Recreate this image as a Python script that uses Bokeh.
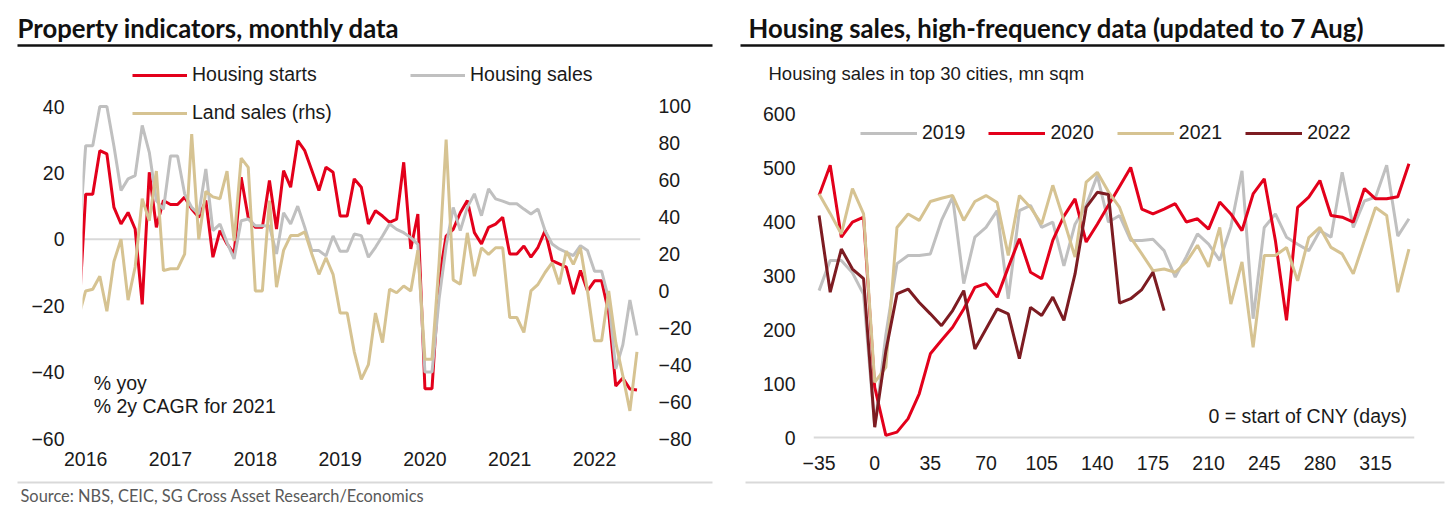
from bokeh.plotting import figure
from bokeh.models import Range1d, LinearAxis, FixedTicker, Span, Legend, LegendItem, Label, ColumnDataSource
from bokeh.layouts import row, column
from bokeh.embed import file_html
from bokeh.resources import INLINE
from bokeh.core.properties import value

# ---------------- Left chart: monthly data, Dec 2015 .. Jul 2022 ----------------
# month index relative to Jan 2016 (Dec 2015 = -1)
month_index = list(range(-1, 79))
year_labels = ["2016", "2017", "2018", "2019", "2020", "2021", "2022"]

housing_starts = [-24, 13.6, 13.6, 26.7, 25.7, 9.6, 4.6, 8.1, 3.1, -19.6,
                  20.2, 3.6, 11.7, 10.5, 10.5, 12.7, 9.1, 6.6, 11.7, -5.4,
                  2.6, -1.4, -4.4, 18.7, 6.6, 3.6, 3.6, 17.7, 3.1, 20.7,
                  15.7, 29.7, 26.7, 20.7, 14.7, 21.7, 20.2, 7, 7, 18.2,
                  15.7, 4.6, 8.6, 7, 5.1, 6.1, 23.2, -2.9, 7.6, -45,
                  -45, -12, 1, 3, 8, 11.7, 2, -1.4, 3.6, 4.6,
                  6.6, -4.4, -4.4, -2, -5.4, -2.4, 2.6, -6.4, -7.4, -8.4,
                  -16.5, -9.4, -15.5, -12.5, -12.5, -22, -44.2, -41.8, -45.1, -45.4]

housing_sales = [-2, 28.2, 28.2, 40, 40, 28, 14.7, 18.2, 19.2, 34.3,
                 26.2, 11.7, 9, 25.1, 25.1, 13.7, 9.6, 7.6, 21.2, 2.6,
                 4.6, -1, -5.9, 5.6, 6.1, 4.1, 4.1, 4, -4.4, 8,
                 4.6, 10, 3.6, -3.4, -3.4, -5, 1, -3.6, -3.6, 1.6,
                 1.1, -5.4, -2.4, 1, 4.6, 3, 2, 0.5, -1.5, -40,
                 -40, -18, -2, 9.6, 2.6, 9.6, 13.7, 7.1, 15.2, 12.2,
                 11.5, 10.7, 10.7, 9.1, 7.6, 9.1, 2.6, -1.4, -2.9, -3.9,
                 -4.9, -1.9, -3.4, -9.6, -9.6, -18, -39, -31.8, -18.3, -29]

land_sales_rhs = [-14, 0, 0.9, 8, -11, 16, 28, -5, 13, 50,
                  38, 65, 11, 12, 12, 20, 85, 28, 54, 51,
                  50, 65, 27, 72, 67, 0, 0, 49, 2, 22,
                  30, 30, 32, 20, 9, 18, 9, -12, -12, -33,
                  -48, -40, -12, -28, 1, -1, 2.7, 0, 22, -37,
                  -37, 15, 82, 6, 3.6, 31.5, 8, 23.4, 19.8, 23.4,
                  23.4, -14.4, -14.4, -22.5, 0, 3.6, 10, 15.3, 3.6, 21.6,
                  14.4, 23.4, 0, -27, -27, 0, -28, -46, -65, -33]

left_ticks = [-60, -40, -20, 0, 20, 40]
right_ticks = [-80, -60, -40, -20, 0, 20, 40, 60, 80, 100]

# ---------------- Right chart: weekly data, days from CNY ----------------
days = list(range(-35, 337, 7))
day_ticks = [-35, 0, 35, 70, 105, 140, 175, 210, 245, 280, 315]
sales_ticks = [0, 100, 200, 300, 400, 500, 600]

sales_2019 = [272, 328, 328, 305, 265, 20, 190, 322, 337, 337,
              340, 402, 445, 285, 371, 389, 420, 257, 420, 430,
              389, 399, 318, 395, 430, 485, 399, 411, 365, 365,
              367, 346, 297, 335, 377, 358, 328, 390, 494, 220,
              389, 414, 371, 358, 346, 383, 371, 491, 389, 438,
              445, 504, 373, 405]
sales_2020 = [448, 504, 371, 399, 408, 93, 4, 10, 35, 81,
              155, 180, 204, 238, 278, 285, 260, 315, 368, 306,
              294, 365, 410, 442, 362, 395, 430, 465, 500, 423,
              414, 423, 433, 399, 405, 386, 436, 414, 383, 451,
              479, 365, 217, 426, 445, 476, 411, 408, 399, 461,
              442, 442, 446, 507]
sales_2021 = [451, 415, 377, 461, 414, 102, 130, 389, 414, 402,
              437, 443, 448, 402, 437, 448, 435, 337, 448, 426,
              395, 467, 402, 334, 473, 491, 455, 426, 370, 340,
              309, 312, 306, 325, 356, 316, 389, 247, 325, 167,
              337, 337, 352, 290, 370, 389, 352, 340, 303, 365,
              426, 411, 269, 349]
sales_2022 = [411, 269, 349, 312, 294, 19, 160, 266, 275, 250,
              229, 207, 235, 272, 164, 201, 238, 229, 146, 241,
              226, 260, 217, 303, 426, 454, 450, 249, 257, 274,
              306, 235]

# ---------------- Styles ----------------
RED = "#e3001b"
GREY = "#c0c0c0"
TAN = "#d6c392"
DARK = "#7d1c22"
TXT = "#1a1a1a"
FONT = "Liberation Sans"
FS = "19.5px"
TITLE_FS = "25.7px"


def style_axis(ax, standoff):
    ax.axis_line_color = None
    ax.major_tick_line_color = None
    ax.minor_tick_line_color = None
    ax.major_tick_out = 0
    ax.major_tick_in = 0
    ax.minor_tick_out = 0
    ax.minor_tick_in = 0
    ax.major_label_standoff = standoff
    ax.major_label_text_font = FONT
    ax.major_label_text_font_size = FS
    ax.major_label_text_color = TXT


def blank(w, h):
    p = figure(width=w, height=h, x_range=Range1d(0, w), y_range=Range1d(0, h),
               min_border=0, toolbar_location=None, output_backend="svg",
               x_axis_location=None, y_axis_location=None)
    p.grid.visible = False
    p.outline_line_color = None
    return p


def legend(p, label, r, loc):
    lg = Legend(items=[LegendItem(label=label, renderers=[r])], location=loc,
                border_line_color=None, background_fill_alpha=0, padding=0, margin=0,
                glyph_width=55, glyph_height=20, label_height=20, label_standoff=5,
                label_text_font=FONT, label_text_font_size=FS, label_text_color=TXT)
    p.add_layout(lg)


# ---------------- Headers ----------------
hdrL = blank(728, 55)
hdrL.text(x=[17], y=[28], text=["Property indicators, monthly data"], text_font=value("Lato"),
          text_font_style="bold", text_font_size=TITLE_FS, text_color="#111111",
          text_baseline="middle", text_align="left")
hdrL.segment(x0=[17], y0=[10], x1=[712], y1=[10], line_color="#111111", line_width=2.5)

hdrR = blank(718, 90)
hdrR.text(x=[20], y=[63], text=["Housing sales, high-frequency data (updated to 7 Aug)"],
          text_font=value("Lato"), text_font_style="bold", text_font_size=TITLE_FS,
          text_color="#111111", text_baseline="middle", text_align="left")
hdrR.segment(x0=[12], y0=[45], x1=[716], y1=[45], line_color="#111111", line_width=2.5)
hdrR.text(x=[40], y=[17], text=["Housing sales in top 30 cities, mn sqm"], text_font=value(FONT),
          text_font_size="18.5px", text_color=TXT, text_baseline="middle", text_align="left")

# ---------------- Left main ----------------
srcL = ColumnDataSource(dict(x=month_index, starts=housing_starts, sales=housing_sales, land=land_sales_rhs))
pL = figure(width=728, height=423, x_range=Range1d(-0.45, 78.5), y_range=Range1d(-60, 54.46),
            min_border_left=82, min_border_right=88, min_border_top=3, min_border_bottom=40,
            toolbar_location=None, output_backend="svg")
pL.extra_y_ranges = {"rhs": Range1d(-80, 126.02)}
pL.add_layout(LinearAxis(y_range_name="rhs"), "right")
pL.grid.visible = False
pL.outline_line_color = None
pL.add_layout(Span(location=0, dimension="width", line_color="#d9d9d9", line_width=2, level="underlay"))

r_starts = pL.line("x", "starts", source=srcL, line_color=RED, line_width=3)
r_sales = pL.line("x", "sales", source=srcL, line_color=GREY, line_width=3)
r_land = pL.line("x", "land", source=srcL, line_color=TAN, line_width=3, y_range_name="rhs")

pL.xaxis.ticker = FixedTicker(ticks=[12 * k for k in range(len(year_labels))])
pL.xaxis.major_label_overrides = {12 * k: lab for k, lab in enumerate(year_labels)}
pL.yaxis[0].ticker = FixedTicker(ticks=left_ticks)
pL.yaxis[1].ticker = FixedTicker(ticks=right_ticks)
style_axis(pL.xaxis[0], 13)
style_axis(pL.yaxis[0], 18)
style_axis(pL.yaxis[1], 18)

legend(pL, "Housing starts", r_starts, (50, 352))
legend(pL, "Housing sales", r_sales, (328, 352))
legend(pL, "Land sales (rhs)", r_land, (50, 314))

for yv, t in [(-43.4, "% yoy"), (-50.1, "% 2y CAGR for 2021")]:
    pL.add_layout(Label(x=1.13, y=yv, text=t, text_font=FONT, text_font_size=FS,
                        text_color=TXT, text_baseline="middle", text_align="left"))

# ---------------- Right main ----------------
srcR = ColumnDataSource(dict(d=days, y19=sales_2019, y20=sales_2020, y21=sales_2021))
src22 = ColumnDataSource(dict(d=days[:len(sales_2022)], y22=sales_2022))
pR = figure(width=718, height=388, x_range=Range1d(-38.5, 339.5), y_range=Range1d(-3.7, 600),
            min_border_left=85, min_border_right=32, min_border_top=23, min_border_bottom=39,
            toolbar_location=None, output_backend="svg")
pR.grid.visible = False
pR.outline_line_color = None
pR.add_layout(Span(location=0, dimension="width", line_color="#d9d9d9", line_width=2, level="underlay"))

r19 = pR.line("d", "y19", source=srcR, line_color=GREY, line_width=3)
r20 = pR.line("d", "y20", source=srcR, line_color=RED, line_width=3)
r21 = pR.line("d", "y21", source=srcR, line_color=TAN, line_width=3)
r22 = pR.line("d", "y22", source=src22, line_color=DARK, line_width=3)

pR.xaxis.ticker = FixedTicker(ticks=day_ticks)
pR.yaxis.ticker = FixedTicker(ticks=sales_ticks)
style_axis(pR.xaxis[0], 16)
style_axis(pR.yaxis[0], 18)

lgR = Legend(items=[LegendItem(label="2019", renderers=[r19]), LegendItem(label="2020", renderers=[r20]),
                    LegendItem(label="2021", renderers=[r21]), LegendItem(label="2022", renderers=[r22])],
             location=(47, 295), orientation="horizontal", spacing=23,
             border_line_color=None, background_fill_alpha=0, padding=0, margin=0,
             glyph_width=57, glyph_height=20, label_height=20, label_standoff=5,
             label_text_font=FONT, label_text_font_size=FS, label_text_color=TXT)
pR.add_layout(lgR)

pR.add_layout(Label(x=335, y=40.7, text="0 = start of CNY (days)", text_font=FONT, text_font_size=FS,
                    text_color=TXT, text_baseline="middle", text_align="right"))

# ---------------- Footer ----------------
ftr = blank(1446, 33)
ftr.segment(x0=[17, 745], y0=[29, 29], x1=[712, 1444], y1=[29, 29], line_color="#d9d9d9", line_width=2)
ftr.text(x=[20], y=[16], text=["Source: NBS, CEIC, SG Cross Asset Research/Economics"],
         text_font=value("Lato"), text_font_size="16.4px", text_color="#595959",
         text_baseline="middle", text_align="left")

left_col = column(row(hdrL), pL)
right_col = column(row(hdrR), pR)
layout = column(row(left_col, right_col), ftr)
open("out.html", "w").write(file_html(layout, INLINE))
